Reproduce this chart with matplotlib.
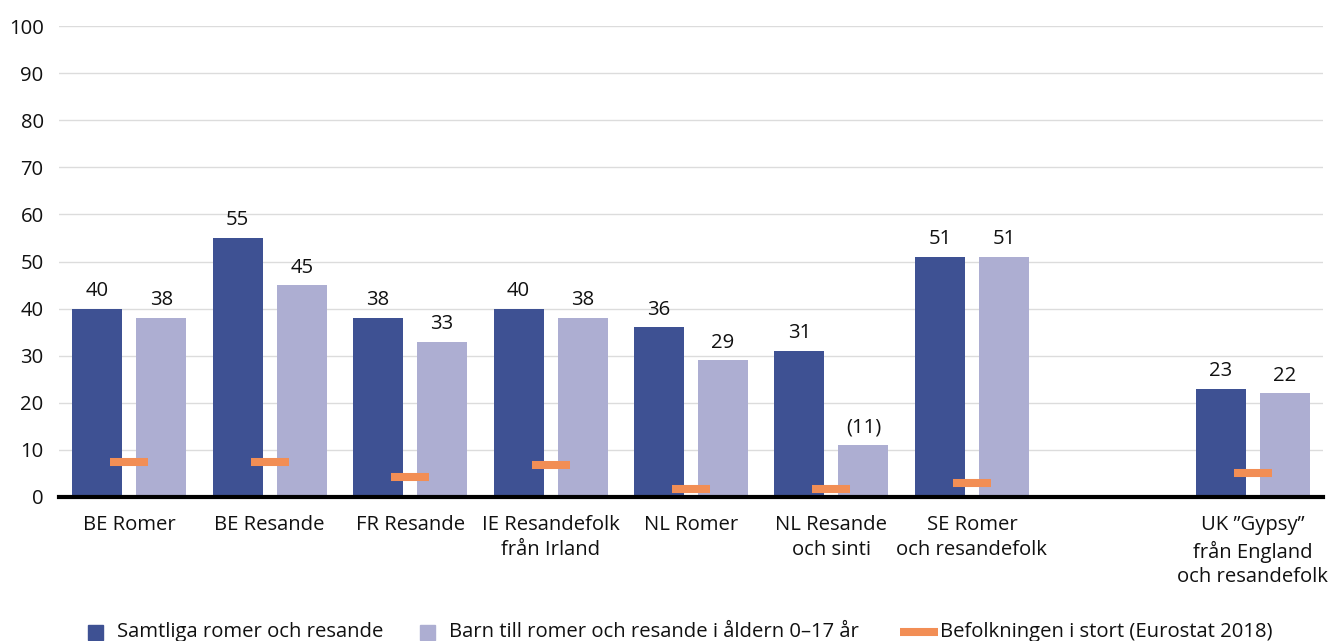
import numpy as np
import matplotlib
matplotlib.use("Agg")
import matplotlib.pyplot as plt
from matplotlib.patches import Rectangle
from matplotlib.lines import Line2D

plt.rcParams["font.family"] = ["Open Sans", "DejaVu Sans"]

# data
categories = ["BE Romer", "BE Resande", "FR Resande", "IE Resandefolk\nfrån Irland",
              "NL Romer", "NL Resande\noch sinti", "SE Romer\noch resandefolk", "",
              "UK ”Gypsy”\nfrån England\noch resandefolk"]
samtliga = [40, 55, 38, 40, 36, 31, 51, np.nan, 23]
barn = [38, 45, 33, 38, 29, 11, 51, np.nan, 22]
barn_labels = ["38", "45", "33", "38", "29", "(11)", "51", "", "22"]
eurostat = [7.5, 7.5, 4.3, 6.8, 1.8, 1.8, 3.0, np.nan, 5.0]

legend_labels = ["Samtliga romer och resande",
                 "Barn till romer och resande i åldern 0–17 år",
                 "Befolkningen i stort (Eurostat 2018)"]

c_dark = "#3E5193"
c_light = "#ADAED2"
c_orange = "#F28E55"
c_text = "#111111"
fs = 14.6

fig = plt.figure(figsize=(13.31, 6.41), dpi=100)
ax = fig.add_axes([59/1331, (641-497)/641, (1323-59)/1331, (497-26)/641])

x = np.arange(len(categories))
ok = ~np.isnan(np.array(samtliga, dtype=float))
w = 0.356
off = 0.228

ax.bar(x[ok] - off, np.array(samtliga)[ok], w, color=c_dark, zorder=2)
ax.bar(x[ok] + off, np.array(barn)[ok], w, color=c_light, zorder=2)

ev = np.array(eurostat)[ok]
ax.hlines(ev, x[ok] - 0.135, x[ok] + 0.135, colors=c_orange, linewidth=5.8, zorder=3)

for xi, v in zip(x[ok], np.array(samtliga)[ok]):
    ax.text(xi - off, v + 1.6, f"{v:g}", ha="center", va="bottom", fontsize=fs, color=c_text)
for xi, v, lab in zip(x[ok], np.array(barn)[ok], np.array(barn_labels)[ok]):
    ax.text(xi + off, v + 1.6, lab, ha="center", va="bottom", fontsize=fs, color=c_text)

ax.set_xlim(-0.5, len(categories) - 0.5)
ax.set_ylim(0, 100)
ax.set_yticks(range(0, 101, 10))
ax.set_xticks(x)
ax.set_xticklabels(categories, fontsize=fs, color=c_text, linespacing=1.32)
ax.tick_params(axis="y", length=0, pad=11, labelsize=fs, labelcolor=c_text)
ax.tick_params(axis="x", length=0, pad=13)
ax.grid(axis="y", color="#dcdcdc", linewidth=1, zorder=0)
ax.set_axisbelow(True)
for s in ["top", "right", "left"]:
    ax.spines[s].set_visible(False)
ax.spines["bottom"].set_linewidth(3)
ax.spines["bottom"].set_color("black")
ax.spines["bottom"].set_zorder(4)

# legend drawn by hand along the bottom
ly = (641 - 632) / 641
sq_w = 15 / 1331
sq_h = 15 / 641
fig.add_artist(Rectangle((88/1331, ly - sq_h/2), sq_w, sq_h, transform=fig.transFigure, color=c_dark))
fig.text(117/1331, ly, legend_labels[0], ha="left", va="center", fontsize=fs, color=c_text)
fig.add_artist(Rectangle((420/1331, ly - sq_h/2), sq_w, sq_h, transform=fig.transFigure, color=c_light))
fig.text(449/1331, ly, legend_labels[1], ha="left", va="center", fontsize=fs, color=c_text)
fig.add_artist(Line2D([900/1331, 938/1331], [ly, ly], transform=fig.transFigure,
                      color=c_orange, linewidth=5.8, solid_capstyle="butt"))
fig.text(940/1331, ly, legend_labels[2], ha="left", va="center", fontsize=fs, color=c_text)

fig.savefig("out.png", dpi=100)
